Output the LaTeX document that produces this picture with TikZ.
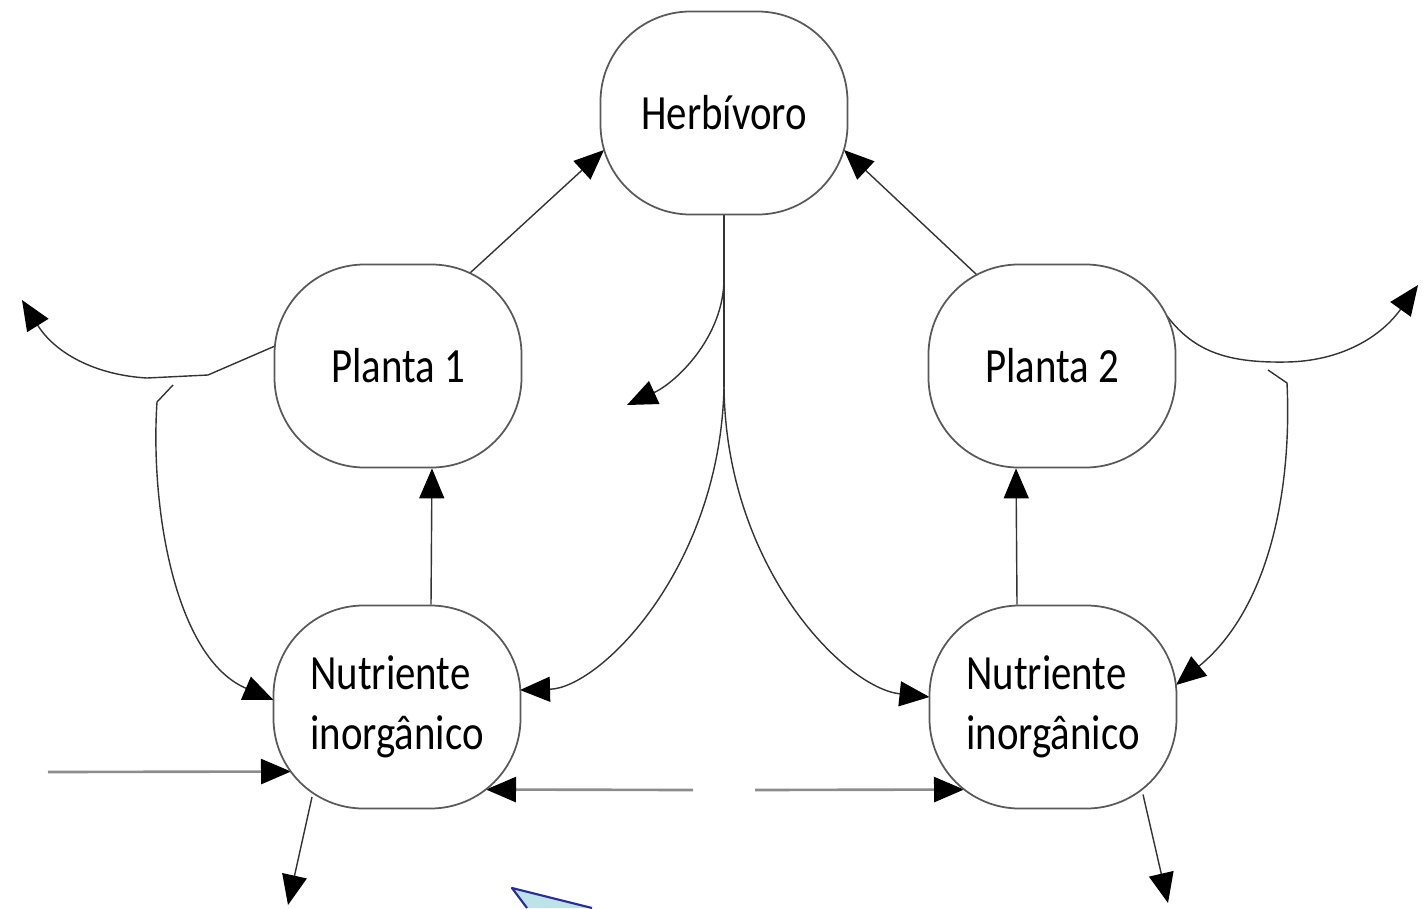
\documentclass[tikz,border=0pt]{standalone}
\usepackage{fontspec}
\setmainfont[FakeStretch=0.83]{Carlito}
\usetikzlibrary{arrows.meta,backgrounds}

\definecolor{balao}{HTML}{BDE3E8}
\definecolor{balaoborda}{HTML}{2B2B9B}

\tikzset{
  BoxStyle/.style={draw=black!65,line width=0.5pt,fill=white,rounded corners=0.9cm,
    minimum width=2.47cm,minimum height=2.03cm,inner sep=0pt,
    font=\fontsize{14}{17}\selectfont},
  LineStyle/.style={draw=black!80,line width=0.4pt},
  EdgeStyle/.style={LineStyle,-{Triangle[length=3mm,width=2.5mm,color=black]}},
  FeedStyle/.style={EdgeStyle,draw=black!45,line width=0.75pt}
}

\begin{document}
\begin{tikzpicture}
            \useasboundingbox (0,0) rectangle (14.26,9.08);

            \node[BoxStyle] (h) at (7.24,7.95) {Herbívoro};
            \node[BoxStyle] (p_1) at (3.98,5.42) {Planta 1};
            \node[BoxStyle] (p_2) at (10.52,5.42) {Planta 2};
            \node[BoxStyle,align=left] (n_1) at (3.97,2.01) {Nutriente\\inorgânico};
            \node[BoxStyle,align=left] (n_2) at (10.53,2.01) {Nutriente\\inorgânico};

            \coordinate (o_1) at (0.22,6.08);
            \coordinate (o_2) at (14.18,6.23);
            \coordinate (o_3) at (6.27,5.03);
            \coordinate (o_4) at (2.88,0.03);
            \coordinate (o_5) at (11.68,0.05);
            \coordinate (f_1) at (1.73,5.23);
            \coordinate (f_2) at (12.68,5.38);
            \coordinate (b_1) at (7.24,6.30);
            \coordinate (b_2) at (7.24,5.21);
            \coordinate (i_1) at (0.48,1.36);
            \coordinate (i_2) at (6.93,1.18);
            \coordinate (i_3) at (7.55,1.18);

            \begin{scope}[on background layer]
            \draw[EdgeStyle] ([shift={(0.72,0.93)}]p_1.center) -- ([shift={(-1.20,-0.37)}]h.center);
            \draw[EdgeStyle] ([shift={(-0.75,0.91)}]p_2.center) -- ([shift={(1.20,-0.37)}]h.center);
            \draw[EdgeStyle] ([xshift=3.4mm]n_1.north) -- ([xshift=3.4mm]p_1.south);
            \draw[EdgeStyle] ([xshift=-3.6mm]n_2.north) -- ([xshift=-3.6mm]p_2.south);

            \draw[EdgeStyle] ([shift={(-1.23,0.2)}]p_1.center) -- (2.08,5.33) -- (1.47,5.30)
              .. controls (0.95,5.33) and (0.55,5.55) .. (o_1);
            \draw[EdgeStyle] ([shift={(1.15,0.50)}]p_2.center) .. controls (11.95,5.55) and (12.30,5.45) .. (12.87,5.46)
              .. controls (13.40,5.47) and (13.80,5.70) .. (o_2);

            \draw[EdgeStyle] (f_1) -- (1.57,5.06) .. controls (1.50,4.00) and (1.75,2.50) .. ([shift={(-1.235,0.07)}]n_1.center);
            \draw[EdgeStyle] (f_2) -- (12.87,5.25) .. controls (12.92,4.20) and (12.70,3.00) .. ([shift={(1.23,0.22)}]n_2.center);

            \draw[LineStyle] (h.south) -- (b_2);
            \draw[EdgeStyle] (b_1) .. controls (7.24,5.70) and (6.75,5.25) .. (o_3);
            \draw[EdgeStyle] (b_2) .. controls (7.20,3.40) and (6.00,2.20) .. ([shift={(1.23,0.17)}]n_1.center);
            \draw[EdgeStyle] (b_2) .. controls (7.26,3.40) and (8.45,2.20) .. ([shift={(-1.235,0.10)}]n_2.center);

            \draw[FeedStyle] (i_1) -- ([shift={(-1.06,-0.645)}]n_1.center);
            \draw[FeedStyle] (i_2) -- ([shift={(0.89,-0.825)}]n_1.center);
            \draw[FeedStyle] (i_3) -- ([shift={(-0.89,-0.825)}]n_2.center);

            \draw[EdgeStyle] ([shift={(-0.85,-0.9)}]n_1.center) -- (o_4);
            \draw[EdgeStyle] ([shift={(0.90,-0.875)}]n_2.center) -- (o_5);
            \end{scope}

            \fill[balao] (5.12,0.20) -- (5.92,0) -- (5.27,0) -- cycle;
            \draw[balaoborda,line width=0.6pt,line join=round] (5.27,0) -- (5.12,0.20) -- (5.92,0);
\end{tikzpicture}
\end{document}
